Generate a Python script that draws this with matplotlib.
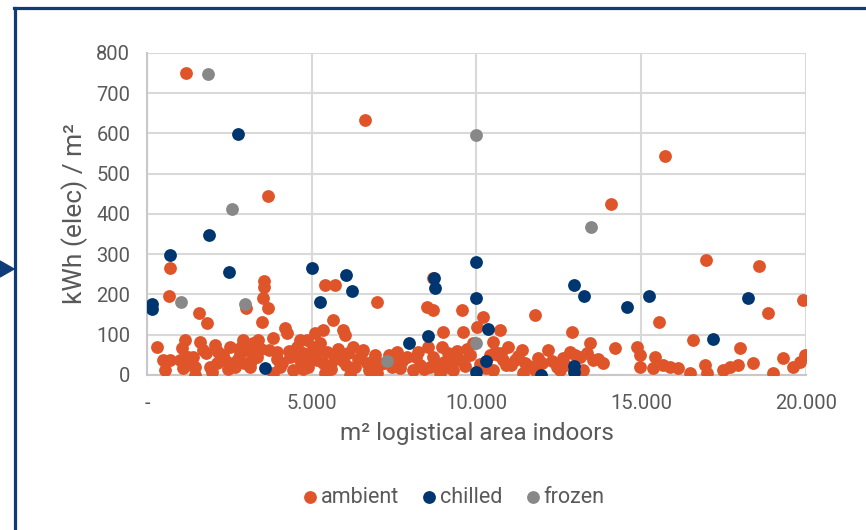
import matplotlib
matplotlib.use("Agg")
import matplotlib.pyplot as plt
from matplotlib.lines import Line2D
from matplotlib.patches import Polygon
from matplotlib.ticker import FuncFormatter, MultipleLocator

# kWh (elec) per m² against indoor logistical area, per warehouse type
ambient_x = [1184, 6616, 3672, 14082, 15720, 16965, 18574, 698, 667, 19909,
             3551, 3551, 3520, 3672, 5402, 5705, 6980, 8680, 8498, 8680,
             9560, 11775, 15539, 18847, 1578, 1821, 3480, 3005,
             294, 495, 546, 698, 1053, 1153, 1001, 1102, 1457, 1608,
             1710, 1406, 1457, 2064, 2165, 2115, 1963, 2367, 2519, 2671,
             2822, 2924, 3025, 3227, 3328, 3126, 3379, 3834, 3935, 4036,
             4240, 4188, 4543, 4643, 4440, 3834,
             5655, 5958, 6009, 5099, 5351, 4846, 5048, 5250, 4745, 4846,
             5150, 5452, 5554, 5402, 5857, 6261, 6313, 6515, 6667, 6920,
             6161, 6970, 7578, 7678, 7476, 8082, 8234, 8537, 8690, 8589,
             8892, 9145, 8994, 9601, 9500, 9298,
             10006, 10207, 10713, 10511, 10562, 10966, 10814, 10511, 11168, 11370,
             11472, 11421, 11876, 11775, 12180, 12433, 12635, 12888, 12838, 13141,
             13242, 13444, 13546, 13849, 14203, 9803,
             16580, 14861, 14962, 15417, 14962, 15366, 15670, 15873, 16125, 16480,
             16935, 16985, 17491, 17693, 17946, 17996, 18401, 19008, 19312, 19615,
             19970, 19818,
             2300, 2600, 3700, 4350, 4900, 5700, 6100, 6750, 7200, 7900,
             8300, 9000, 9400, 9900, 10300, 10650, 11050, 12000, 12550, 13350,
             1250, 1350, 1800, 1900, 2250, 2450, 2750, 2850, 3150, 3250,
             3450, 3950, 4100, 4300, 4550, 4750, 4950, 5200, 5350, 5600,
             5800, 6050, 6400, 6550, 6850, 7050, 7350, 7750, 8150, 8400,
             8750, 9100, 9250, 9700, 10100, 10400, 10900, 11250, 11600, 12300,
             12700, 13000, 13700, 8950, 9650, 4650, 5950, 2950, 7450, 10750]
ambient_y = [750, 633, 445, 425, 544, 286, 271, 266, 196, 186,
             234, 219, 192, 166, 224, 224, 181, 241, 169, 161,
             161, 149, 132, 154, 154, 129, 132, 166,
             70, 37, 12, 37, 66, 87, 37, 17, 21, 83,
             62, 45, 0, 75, 58, 29, 8, 37, 70, 21,
             54, 87, 62, 79, 45, 21, 87, 91, 58, 21,
             104, 116, 70, 37, 12, 4,
             137, 112, 99, 104, 112, 87, 70, 79, 54, 29,
             37, 58, 25, 4, 45, 70, 21, 58, 29, 50,
             0, 4, 58, 17, 37, 12, 58, 70, 45, 21,
             4, 54, 108, 108, 37, 12,
             120, 145, 112, 83, 58, 70, 37, 12, 37, 62,
             29, 4, 41, 12, 62, 21, 41, 108, 58, 45,
             12, 79, 37, 29, 66, 50,
             87, 70, 50, 45, 21, 17, 25, 21, 17, 4,
             25, 4, 12, 21, 25, 66, 29, 4, 41, 21,
             50, 33,
             50, 30, 62, 45, 20, 40, 55, 12, 30, 45,
             25, 33, 60, 80, 18, 50, 25, 30, 12, 55,
             45, 25, 55, 20, 45, 15, 40, 70, 35, 55,
             65, 40, 30, 60, 50, 15, 45, 60, 30, 15,
             65, 25, 40, 62, 35, 25, 50, 35, 45, 15,
             30, 20, 40, 65, 28, 50, 25, 48, 22, 35,
             25, 50, 40, 70, 22, 88, 35, 30, 20, 55]

chilled_x = [2762, 1882, 698, 2489, 5008, 6039, 6222, 5250, 8710, 8741,
             9985, 9985, 12959, 13262, 14567, 15235, 18240, 17178, 150, 150,
             3581, 7951, 8528, 10349, 10288, 9985, 11957, 12959, 12959]
chilled_y = [599, 348, 298, 256, 266, 248, 209, 181, 241, 216,
             281, 191, 224, 196, 169, 196, 191, 89, 176, 164,
             17, 80, 97, 114, 35, 7, 0, 22, 7]

frozen_x = [1851, 2580, 13475, 9985, 1032, 2975, 9985, 7284]
frozen_y = [748, 412, 368, 596, 181, 176, 80, 35]

series_names = ["ambient", "chilled", "frozen"]
series_colors = ["#E0542A", "#003670", "#888888"]
x_ticks = [0, 5000, 10000, 15000, 20000]

TEXT = "#595959"
GRID = "#D9D9D9"
FRAME = "#0E3C78"
plt.rcParams["font.family"] = ["Roboto", "DejaVu Sans"]

fig = plt.figure(figsize=(8.66, 5.30), dpi=100)
ax = fig.add_axes([0.1697, 0.2925, 0.761, 0.6075])

for name, xs, ys, col in zip(series_names, [ambient_x, chilled_x, frozen_x],
                             [ambient_y, chilled_y, frozen_y], series_colors):
    ax.scatter(xs, ys, s=85, color=col, linewidths=0, label=name, zorder=3)

ax.set_xlim(0, 20000)
ax.set_ylim(0, 800)
ax.set_xticks(x_ticks)
ax.yaxis.set_major_locator(MultipleLocator(100))


def thousands(v, pos):
    if v == 0:
        return "-"
    return f"{int(v):,}".replace(",", ".")


ax.xaxis.set_major_formatter(FuncFormatter(thousands))
ax.grid(True, color=GRID, linewidth=1.5, zorder=0)
ax.set_axisbelow(True)
for side in ["top", "right"]:
    ax.spines[side].set_visible(False)
for side in ["left", "bottom"]:
    ax.spines[side].set_color("#C8C8C8")
    ax.spines[side].set_linewidth(1.5)
ax.tick_params(axis="x", length=0, labelsize=14.5, colors=TEXT, pad=14)
ax.tick_params(axis="y", length=0, labelsize=14.5, colors=TEXT, pad=12)

ax.set_ylabel("kWh (elec) / m²", fontsize=19, color=TEXT, labelpad=6)
ax.set_xlabel("m² logistical area indoors", fontsize=17.5, color=TEXT, labelpad=6)

leg = fig.legend(loc="center", bbox_to_anchor=(0.522, 0.062), ncol=3, frameon=False,
                 fontsize=15.5, handletextpad=0.0, columnspacing=0.9, markerscale=1.0,
                 handlelength=1.0)
for t in leg.get_texts():
    t.set_color(TEXT)

# dark blue frame along top and left edge, with pointer on the left
fig.add_artist(Line2D([14.5 / 866, 14.5 / 866], [0, 1 - 7.5 / 530], color=FRAME,
                      linewidth=2.3, transform=fig.transFigure))
fig.add_artist(Line2D([13.5 / 866, 1], [1 - 7.5 / 530, 1 - 7.5 / 530], color=FRAME,
                      linewidth=2.3, transform=fig.transFigure))
fig.add_artist(Polygon([[0, 1 - 261 / 530], [14 / 866, 1 - 269 / 530], [0, 1 - 277 / 530]],
                       closed=True, color=FRAME, transform=fig.transFigure))

fig.savefig("out.png", dpi=100)
